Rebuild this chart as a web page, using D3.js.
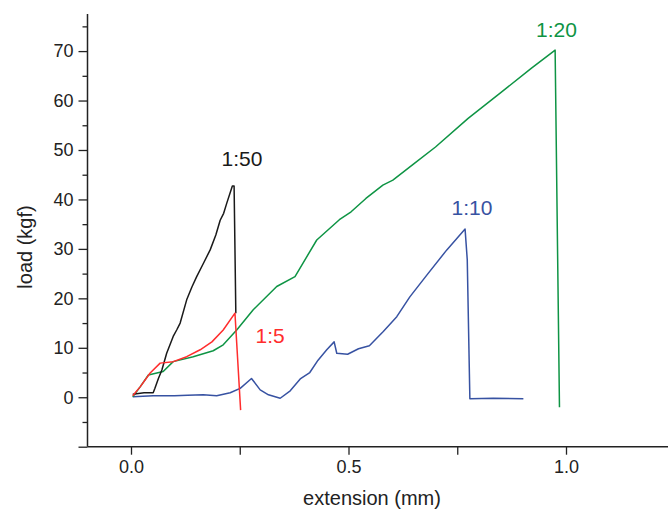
<!DOCTYPE html>
<html>
<head>
<meta charset="utf-8">
<script src="https://cdn.jsdelivr.net/npm/d3@7"></script>
<style>
  html, body { margin: 0; padding: 0; background: #fff; }
  svg { display: block; font-family: "Liberation Sans", Arial, sans-serif; }
</style>
</head>
<body>
<svg width="668" height="515"></svg>
<script>
// ---- data ----
const seriesNames = ["1:50", "1:5", "1:20", "1:10"];
const seriesColors = ["#1a1a1a", "#ff2d2d", "#0e9444", "#3752a2"];

const black50 = [
  [0.004, 0.6], [0.03, 0.9], [0.051, 0.9], [0.055, 1.8], [0.063, 3.8], [0.071, 5.5],
  [0.082, 8.9], [0.097, 12.3], [0.105, 13.6], [0.113, 15.0], [0.128, 19.7],
  [0.14, 22.3], [0.151, 24.4], [0.166, 27.0], [0.182, 29.8], [0.195, 32.8],
  [0.205, 35.8], [0.213, 37.2], [0.220, 39.2], [0.233, 42.7], [0.237, 42.7],
  [0.241, 17.0]
];
const red5 = [
  [0.004, 0.3], [0.021, 2.1], [0.044, 4.9], [0.067, 6.9], [0.097, 7.2],
  [0.128, 8.2], [0.159, 9.6], [0.186, 11.2], [0.212, 13.6], [0.239, 17.0],
  [0.252, -2.6]
];
const green20 = [
  [0.004, 0.1], [0.021, 2.1], [0.040, 4.5], [0.074, 5.2], [0.097, 7.2],
  [0.143, 8.2], [0.189, 9.4], [0.212, 10.6], [0.243, 13.6], [0.281, 17.7],
  [0.335, 22.4], [0.377, 24.4], [0.427, 31.8], [0.479, 35.9], [0.506, 37.5],
  [0.540, 40.2], [0.579, 42.9], [0.602, 43.9], [0.65, 47.2], [0.70, 50.6],
  [0.775, 56.4], [0.85, 61.6], [0.92, 66.5], [0.975, 70.2], [0.985, -2.0]
];
const blue10 = [
  [0.004, 0.1], [0.051, 0.3], [0.10, 0.3], [0.13, 0.4], [0.166, 0.5], [0.197, 0.3],
  [0.228, 0.9], [0.251, 1.8], [0.277, 3.8], [0.297, 1.5], [0.316, 0.5],
  [0.343, -0.2], [0.366, 1.3], [0.389, 3.7], [0.411, 5.0], [0.430, 7.5],
  [0.450, 9.6], [0.467, 11.2], [0.473, 8.9], [0.498, 8.7], [0.523, 9.8],
  [0.548, 10.4], [0.580, 13.3], [0.611, 16.3], [0.641, 20.3], [0.680, 24.7],
  [0.726, 29.8], [0.768, 34.0], [0.773, 27.8], [0.779, -0.3], [0.833, -0.2],
  [0.902, -0.3]
];
const allSeries = [black50, red5, green20, blue10];

// label anchor points in data units
const labelPos = [[0.255, 46.8], [0.32, 11.0], [0.978, 72.9], [0.784, 36.9]];

const yTicksMajor = [-10, 0, 10, 20, 30, 40, 50, 60, 70];
const yTicksMinor = [-5, 5, 15, 25, 35, 45, 55, 65, 75];
const yTickLabels = [0, 10, 20, 30, 40, 50, 60, 70];
const xTicksMajor = [0.0, 0.5, 1.0];
const xTicksMinor = [0.25, 0.75];

// ---- scales ----
const svg = d3.select("svg");
const x = d3.scaleLinear().domain([-0.1, 1.25]).range([87.5, 674.75]);
const y = d3.scaleLinear().domain([-10, 77.5]).range([446.7, 14]);

// ---- axes ----
const axisColor = "#222";

const yMajor = svg.append("g")
  .attr("transform", `translate(${x(-0.1)},0)`)
  .call(d3.axisLeft(y).tickValues(yTicksMajor).tickSize(9).tickPadding(5)
    .tickFormat(d => yTickLabels.includes(d) ? d : ""));
svg.append("g")
  .attr("transform", `translate(${x(-0.1)},0)`)
  .call(d3.axisLeft(y).tickValues(yTicksMinor).tickSize(5).tickFormat(""))
  .select(".domain").remove();

const xMajor = svg.append("g")
  .attr("transform", `translate(0,${y(-10)})`)
  .call(d3.axisBottom(x).tickValues(xTicksMajor).tickSize(8).tickPadding(6)
    .tickFormat(d3.format(".1f")));
svg.append("g")
  .attr("transform", `translate(0,${y(-10)})`)
  .call(d3.axisBottom(x).tickValues(xTicksMinor).tickSize(8).tickFormat(""))
  .select(".domain").remove();

svg.selectAll(".domain").attr("stroke", axisColor).attr("stroke-width", 1.5);
svg.selectAll(".tick line").attr("stroke", axisColor).attr("stroke-width", 1.3);
svg.selectAll(".tick text").attr("fill", "#222").attr("font-size", 18)
  .attr("font-family", "'Liberation Sans', Arial, sans-serif");

// plain axis lines, no outer ticks; x axis runs off the right edge
yMajor.select(".domain").attr("d", `M0,${y(77.5)}V${y(-10)}`);
xMajor.select(".domain").attr("d", `M${x(-0.1)},0H668`);

// axis titles
svg.append("text")
  .attr("x", 372).attr("y", 505)
  .attr("text-anchor", "middle")
  .attr("font-size", 20).attr("fill", "#222")
  .text("extension (mm)");

svg.append("text")
  .attr("transform", "translate(32,247) rotate(-90)")
  .attr("text-anchor", "middle")
  .attr("font-size", 20).attr("fill", "#222")
  .text("load (kgf)");

// ---- lines ----
const line = d3.line().x(d => x(d[0])).y(d => y(d[1]));

// draw order: blue, green, black, red on top
const order = [3, 2, 0, 1];
order.forEach(i => {
  svg.append("path")
    .datum(allSeries[i])
    .attr("fill", "none")
    .attr("stroke", seriesColors[i])
    .attr("stroke-width", 1.5)
    .attr("stroke-linejoin", "round")
    .attr("d", line);
});

// ---- series labels ----
seriesNames.forEach((name, i) => {
  svg.append("text")
    .attr("x", x(labelPos[i][0]))
    .attr("y", y(labelPos[i][1]))
    .attr("text-anchor", "middle")
    .attr("font-size", 21)
    .attr("fill", seriesColors[i])
    .text(name);
});
</script>
</body>
</html>
